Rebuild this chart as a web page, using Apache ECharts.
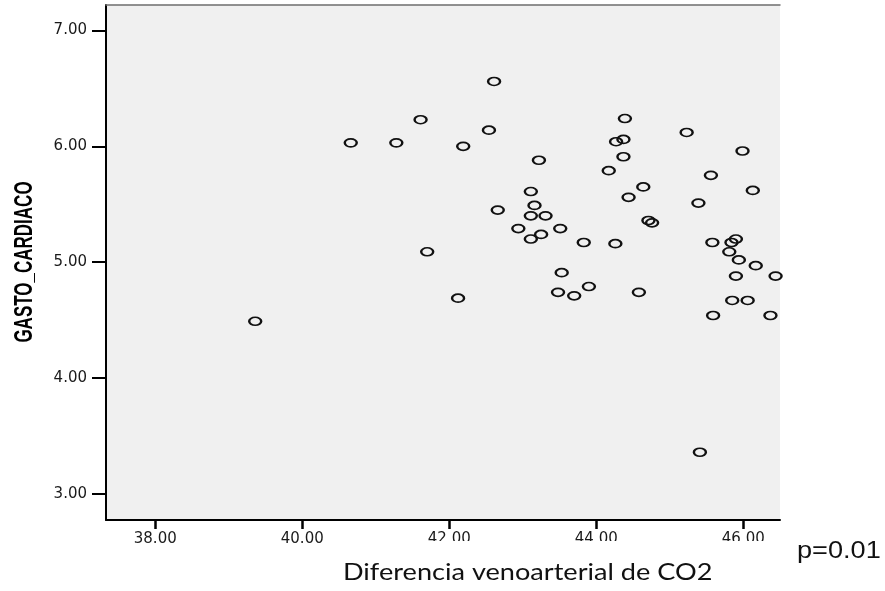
<!DOCTYPE html>
<html>
<head>
<meta charset="utf-8">
<title>GASTO_CARDIACO vs Diferencia venoarterial de CO2</title>
<script src="https://cdn.jsdelivr.net/npm/echarts@6/dist/echarts.min.js"></script>
<style>
    html, body { margin: 0; padding: 0; background: #fff; }
    #_idChart { width: 885px; height: 591px; }
</style>
</head>
<body>
<div id="_idChart"></div>
<script>
/* 数据 */
// Diferencia venoarterial de CO2
const xVals = [39.36, 40.66, 41.28, 41.61, 41.70, 42.12, 42.19, 42.54, 42.61, 42.66,
    42.94, 43.11, 43.11, 43.11, 43.16, 43.22, 43.25, 43.31, 43.48, 43.51,
    43.53, 43.70, 43.83, 43.90, 44.17, 44.26, 44.27, 44.37, 44.37, 44.39,
    44.44, 44.58, 44.64, 44.71, 44.76, 45.23, 45.39, 45.41, 45.56, 45.58,
    45.59, 45.81, 45.84, 45.90, 45.90, 45.94, 45.99, 45.85, 46.06, 46.13,
    46.17, 46.37, 46.44];
// GASTO_CARDIACO
const yVals = [4.49, 6.03, 6.03, 6.23, 5.09, 4.69, 6.00, 6.14, 6.56, 5.45,
    5.29, 5.61, 5.40, 5.20, 5.49, 5.88, 5.24, 5.40, 4.74, 5.29,
    4.91, 4.71, 5.17, 4.79, 5.79, 5.16, 6.04, 6.06, 5.91, 6.24,
    5.56, 4.74, 5.65, 5.36, 5.34, 6.12, 5.51, 3.36, 5.75, 5.17,
    4.54, 5.09, 5.17, 5.20, 4.88, 5.02, 5.96, 4.67, 4.67, 5.62,
    4.97, 4.54, 4.88];

// 刻度
const xTicks = [38, 40, 42, 44, 46];
const yTicks = [3, 4, 5, 6, 7];

const xTitle = 'Diferencia venoarterial de CO2';
const yTitle = 'GASTO_CARDIACO';
const pText = 'p=0.01';

const points = xVals.map((x, i) => [x, yVals[i]]);

const labelFont = {
    fontFamily: '"DejaVu Sans", sans-serif',
    fontSize: 15,
    color: '#1a1a1a'
};

const chartObj = echarts.init(document.getElementById('_idChart'));

chartObj.setOption({
    animation: false,
    grid: {
        left: 106,
        top: 5,
        width: 674,
        height: 515,
        show: true,
        backgroundColor: '#f0f0f0',
        borderWidth: 0
    },
    xAxis: [
        {
            type: 'value',
            min: 37.33,
            max: 46.5,
            splitLine: { show: false },
            axisLine: { show: true, onZero: false, lineStyle: { color: '#000', width: 2 } },
            axisTick: {
                show: true,
                customValues: xTicks,
                length: 9,
                lineStyle: { color: '#000', width: 2.5 }
            },
            axisLabel: Object.assign({
                customValues: xTicks,
                margin: 12,
                formatter: v => v.toFixed(2)
            }, labelFont)
        },
        {
            // 上边框
            type: 'value',
            position: 'top',
            min: 37.33,
            max: 46.5,
            splitLine: { show: false },
            axisLine: { show: true, onZero: false, lineStyle: { color: '#6e6e6e', width: 1.5 } },
            axisTick: { show: false },
            axisLabel: { show: false }
        }
    ],
    yAxis: {
        type: 'value',
        min: 2.775,
        max: 7.22,
        splitLine: { show: false },
        axisLine: { show: true, onZero: false, lineStyle: { color: '#000', width: 2 } },
        axisTick: {
            show: true,
            customValues: yTicks,
            length: 14,
            lineStyle: { color: '#000', width: 2 }
        },
        axisLabel: Object.assign({
            customValues: yTicks,
            margin: 19,
            formatter: v => v.toFixed(2)
        }, labelFont)
    },
    series: [
        {
            type: 'scatter',
            xAxisIndex: 0,
            data: points,
            symbol: 'circle',
            symbolSize: [12, 8],
            itemStyle: {
                color: 'rgba(0,0,0,0)',
                borderColor: '#111',
                borderWidth: 2,
                opacity: 1
            },
            emphasis: { disabled: true }
        }
    ],
    graphic: [
        {
            // 轴标签下方的白色遮挡
            type: 'rect',
            shape: { x: 332, y: 541, width: 470, height: 50 },
            style: { fill: '#fff' },
            z: 100
        },
        {
            type: 'text',
            x: 24.5,
            y: 262,
            rotation: Math.PI / 2,
            scaleY: 1.55,
            style: {
                text: yTitle,
                font: 'bold 17px "Liberation Sans", Arial, sans-serif',
                fill: '#000',
                align: 'center',
                verticalAlign: 'middle'
            },
            z: 101
        },
        {
            type: 'text',
            x: 343,
            y: 572,
            scaleX: 1.13,
            style: {
                text: xTitle,
                font: '24px Lato, "Open Sans", sans-serif',
                fill: '#111',
                align: 'left',
                verticalAlign: 'middle'
            },
            z: 101
        },
        {
            type: 'text',
            x: 797,
            y: 552,
            scaleX: 1.18,
            style: {
                text: pText,
                font: '23px "Liberation Sans", Arial, sans-serif',
                fill: '#111',
                align: 'left',
                verticalAlign: 'middle'
            },
            z: 101
        }
    ]
});
</script>
</body>
</html>
